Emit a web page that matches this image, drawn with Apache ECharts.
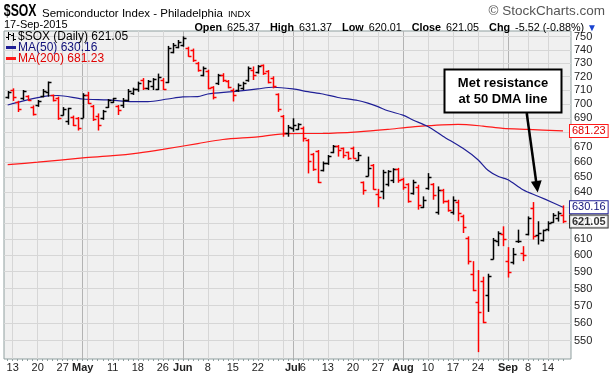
<!DOCTYPE html>
<html><head><meta charset="utf-8">
<script src="https://cdn.jsdelivr.net/npm/echarts@6/dist/echarts.min.js"></script>
<style>html,body{margin:0;padding:0;background:#fff}#c{width:611px;height:376px}</style>
</head><body><div id="c"></div>
<script>
// ---------- DATA ----------
const dates = [
 '2015-04-10','2015-04-13','2015-04-14','2015-04-15','2015-04-16','2015-04-17','2015-04-20','2015-04-21','2015-04-22','2015-04-23','2015-04-24','2015-04-27','2015-04-28','2015-04-29','2015-04-30',
 '2015-05-01','2015-05-04','2015-05-05','2015-05-06','2015-05-07','2015-05-08','2015-05-11','2015-05-12','2015-05-13','2015-05-14','2015-05-15','2015-05-18','2015-05-19','2015-05-20','2015-05-21','2015-05-22','2015-05-26','2015-05-27','2015-05-28','2015-05-29',
 '2015-06-01','2015-06-02','2015-06-03','2015-06-04','2015-06-05','2015-06-08','2015-06-09','2015-06-10','2015-06-11','2015-06-12','2015-06-15','2015-06-16','2015-06-17','2015-06-18','2015-06-19','2015-06-22','2015-06-23','2015-06-24','2015-06-25','2015-06-26','2015-06-29','2015-06-30',
 '2015-07-01','2015-07-02','2015-07-06','2015-07-07','2015-07-08','2015-07-09','2015-07-10','2015-07-13','2015-07-14','2015-07-15','2015-07-16','2015-07-17','2015-07-20','2015-07-21','2015-07-22','2015-07-23','2015-07-24','2015-07-27','2015-07-28','2015-07-29','2015-07-30','2015-07-31',
 '2015-08-03','2015-08-04','2015-08-05','2015-08-06','2015-08-07','2015-08-10','2015-08-11','2015-08-12','2015-08-13','2015-08-14','2015-08-17','2015-08-18','2015-08-19','2015-08-20','2015-08-21','2015-08-24','2015-08-25','2015-08-26','2015-08-27','2015-08-28','2015-08-31',
 '2015-09-01','2015-09-02','2015-09-03','2015-09-04','2015-09-08','2015-09-09','2015-09-10','2015-09-11','2015-09-14','2015-09-15','2015-09-16','2015-09-17'
];
const opens = [705.0,710.0,701.5,704.5,706.0,698.0,699.5,706.0,709.0,706.5,704.5,692.5,688.0,691.0,690.0,
 690.5,707.0,699.0,692.0,690.0,698.0,701.7,699.0,699.5,703.0,708.0,711.0,717.5,712.0,713.0,711.0,717.5,716.0,738.5,742.2,
 743.7,741.5,740.0,730.0,721.3,724.0,712.4,715.3,721.6,716.9,710.0,710.3,712.0,717.6,725.0,723.2,728.6,724.2,719.4,707.3,691.7,679.8,
 683.2,682.6,683.0,675.0,665.4,667.4,654.7,659.3,666.7,670.8,669.4,666.4,669.4,661.4,646.5,650.6,658.0,639.0,641.0,645.0,648.0,655.4,
 648.8,645.0,639.6,643.5,630.5,642.8,645.5,627.3,641.5,634.4,627.3,633.7,624.8,610.9,588.5,572.0,584.4,576.0,598.0,609.0,613.0,
 596.5,596.0,608.5,601.5,613.0,629.7,612.5,609.5,616.0,621.0,623.4,625.37];
const highs = [709.6,711.5,702.5,710.3,706.5,699.2,703.1,711.0,716.5,707.0,705.5,698.0,697.5,692.0,691.0,
 708.0,709.0,699.5,693.5,696.0,703.8,704.6,699.5,704.5,711.0,712.0,716.4,719.0,717.6,719.0,722.3,719.0,743.0,745.2,747.5,
 750.3,742.4,741.0,731.0,727.6,725.2,713.1,722.1,722.6,717.6,711.5,715.1,716.3,727.6,727.6,728.6,729.1,724.9,720.3,707.9,692.4,685.4,
 690.1,686.6,684.3,675.7,666.1,668.1,660.3,664.7,671.5,671.5,669.8,667.0,670.4,666.7,647.0,663.6,658.6,642.1,654.7,654.5,655.8,656.0,
 649.5,645.8,648.1,644.8,637.2,652.5,645.9,643.7,642.1,635.0,637.2,635.0,625.4,611.7,596.4,591.0,587.0,588.8,610.7,614.9,618.0,
 605.0,604.5,615.9,605.6,624.3,633.5,621.2,615.9,621.2,626.4,627.6,631.37];
const lows = [704.0,702.4,694.5,703.0,702.4,692.0,698.2,705.0,705.5,702.0,689.0,692.0,685.5,684.6,681.5,
 690.3,700.2,688.2,681.5,689.0,697.4,701.0,692.4,697.4,702.0,706.7,709.0,710.3,710.3,710.3,710.3,710.3,715.3,737.4,741.2,
 742.4,734.8,731.0,723.7,720.3,710.8,703.5,713.9,716.1,711.5,702.0,709.0,710.3,716.3,717.6,722.3,721.3,715.1,711.5,694.6,677.2,677.2,
 680.7,681.9,673.8,652.3,654.0,645.9,653.6,658.0,665.9,663.6,662.5,661.4,662.2,660.7,638.3,650.3,641.5,630.1,635.3,643.7,645.9,646.1,
 641.5,633.1,638.3,628.6,629.6,641.5,635.0,625.4,632.5,627.3,625.4,621.2,613.8,594.4,578.4,543.5,559.8,566.3,597.4,605.6,605.6,
 586.5,594.4,607.6,596.4,612.3,609.7,606.6,608.5,614.9,620.2,621.0,620.01];
const closes = [708.5,705.5,696.5,709.5,703.0,693.0,702.4,709.5,716.0,703.0,690.5,697.0,697.2,685.5,683.0,
 706.5,701.0,689.6,685.5,695.3,703.0,704.2,696.0,703.0,709.5,711.3,715.6,712.0,716.9,718.3,720.0,711.0,741.5,743.7,746.0,
 749.0,735.4,732.4,725.0,726.8,712.0,705.3,721.3,717.6,712.6,706.5,713.9,715.3,726.8,721.3,727.9,722.4,716.0,713.2,697.0,680.0,684.0,
 685.4,686.3,676.4,660.7,655.0,646.8,659.3,664.0,670.8,668.0,664.7,662.7,662.5,664.7,641.5,656.0,642.2,636.9,653.0,654.2,655.5,648.1,
 643.5,634.4,646.8,631.8,635.0,650.2,638.3,641.5,634.4,628.6,635.0,626.5,617.5,596.2,579.0,566.5,560.2,587.5,609.5,613.5,610.0,
 590.0,600.5,609.0,600.0,623.5,612.2,614.0,615.5,620.0,625.4,626.57,621.05];

const ma50Dates = ['2015-04-10','2015-04-22','2015-04-24','2015-05-01','2015-05-08','2015-05-15','2015-05-20','2015-05-27','2015-06-01','2015-06-04','2015-06-08','2015-06-15','2015-06-22','2015-06-25','2015-07-01','2015-07-07','2015-07-10','2015-07-15','2015-07-21','2015-07-23','2015-07-27','2015-07-29','2015-08-03','2015-08-05','2015-08-10','2015-08-13','2015-08-19','2015-08-24','2015-08-26','2015-08-28','2015-09-01','2015-09-04','2015-09-10','2015-09-15','2015-09-17'];
const ma50Values = [699.5,706.0,706.3,703.8,703.1,701.9,701.9,703.8,705.3,705.5,707.4,709.1,711.1,712.3,711.1,709.1,707.4,704.9,702.7,700.8,698.3,695.4,692.3,688.9,684.3,677.6,669.2,661.5,654.4,650.4,648.1,641.5,637.3,633.1,630.16];
const ma200Dates = ['2015-04-10','2015-04-20','2015-05-01','2015-05-11','2015-05-18','2015-05-26','2015-06-04','2015-06-11','2015-06-22','2015-06-30','2015-07-10','2015-07-21','2015-07-29','2015-08-05','2015-08-18','2015-08-25','2015-08-31','2015-09-08','2015-09-17'];
const ma200Values = [658.2,659.8,662.7,664.2,666.0,668.5,672.5,675.3,677.1,679.4,679.5,680.6,682.3,684.1,685.8,684.6,683.0,682.3,681.23];

const yTicks = [550,560,570,580,590,600,610,620,630,640,650,660,670,680,690,700,710,720,730,740,750];
const weekLineDates = ['2015-04-13','2015-04-20','2015-04-27','2015-05-04','2015-05-11','2015-05-18','2015-05-26','2015-06-08','2015-06-15','2015-06-22','2015-06-29','2015-07-06','2015-07-13','2015-07-20','2015-07-27','2015-08-10','2015-08-17','2015-08-24','2015-08-31','2015-09-08','2015-09-14'];
const monthLineDates = ['2015-05-01','2015-06-01','2015-07-01','2015-08-03','2015-09-01'];
const tickDates = ['2015-04-13','2015-04-20','2015-04-27','2015-05-01','2015-05-11','2015-05-18','2015-05-26','2015-06-01','2015-06-08','2015-06-15','2015-06-22','2015-07-01','2015-07-06','2015-07-13','2015-07-20','2015-07-27','2015-08-03','2015-08-10','2015-08-17','2015-08-24','2015-09-01','2015-09-08','2015-09-14'];
const tickLabels = ['13','20','27','May','11','18','26','Jun','8','15','22','Jul','6','13','20','27','Aug','10','17','24','Sep','8','14'];

// ---------- BUILD ----------
const FONT = 'Liberation Sans, Arial, sans-serif';
const RED = '#ff0000', NAVY = '#1f1f96', MRED = '#ff1a1a';
const n = dates.length;
const idxOf = d => dates.indexOf(d);
const ohlc = dates.map((d, i) => {
  const prev = i > 0 ? closes[i - 1] : opens[i];
  return [i, opens[i], highs[i], lows[i], closes[i], closes[i] >= prev ? 1 : -1];
});
const ma50 = ma50Dates.map((d, k) => [idxOf(d), ma50Values[k]]);
const ma200 = ma200Dates.map((d, k) => [idxOf(d), ma200Values[k]]);
const last = n - 1;
const lastClose = closes[last], prevClose = closes[last - 1];
const chg = lastClose - prevClose, pct = chg / prevClose * 100;
const f2 = v => v.toFixed(2);

function renderOHLC(params, api) {
  const i = api.value(0);
  const pO = api.coord([i, api.value(1)]);
  const pH = api.coord([i, api.value(2)]);
  const pL = api.coord([i, api.value(3)]);
  const pC = api.coord([i, api.value(4)]);
  const col = api.value(5) > 0 ? '#000000' : RED;
  const x = Math.round(pH[0]) + 0.5;
  const yo = Math.round(pO[1]) + 0.5, yc = Math.round(pC[1]) + 0.5;
  const st = { stroke: col, lineWidth: 1.5 };
  return { type: 'group', children: [
    { type: 'line', shape: { x1: x, y1: pH[1], x2: x, y2: pL[1] }, style: st },
    { type: 'line', shape: { x1: x - 3, y1: yo, x2: x, y2: yo }, style: st },
    { type: 'line', shape: { x1: x, y1: yc, x2: x + 3, y2: yc }, style: st }
  ]};
}

const lblStyle = { fontFamily: FONT, fontSize: 11, color: '#222' };
const gridLines = [];
const vLines = weekLineDates.map(d => [d, false]).concat(monthLineDates.map(d => [d, true]));
vLines.forEach(([d, isMonthLine]) => {
  const k = tickDates.indexOf(d);
  const lab = k >= 0 ? tickLabels[k] : '';
  const isMonthLabel = k >= 0 && isNaN(Number(lab));
  gridLines.push({ xAxis: idxOf(d),
    lineStyle: { color: isMonthLine ? '#b3b3b3' : '#d6d6d6', width: 1, type: 'solid' },
    label: { show: k >= 0, position: 'start', distance: 3, formatter: lab, ...lblStyle,
      fontWeight: isMonthLabel ? 'bold' : 'normal' } });
});
yTicks.forEach(v => gridLines.push({ yAxis: v, lineStyle: { color: '#d6d6d6', width: 1, type: 'solid' },
  label: { show: true, position: 'end', distance: 3, formatter: String(v), ...lblStyle } }));

const Z = 100;
const chart = echarts.init(document.getElementById('c'), null, { renderer: 'canvas' });
chart.setOption({
  animation: false,
  backgroundColor: '#ffffff',
  textStyle: { fontFamily: FONT },
  title: [
    { left: 42, top: 5, padding: 0, text: '{b|Semiconductor Index - Philadelphia} {c|INDX}',
      textStyle: { fontWeight: 'normal', rich: {
        b: { fontFamily: FONT, fontSize: 11.5, fontWeight: 'normal', color: '#000' },
        c: { fontFamily: FONT, fontSize: 9.5, fontWeight: 'normal', color: '#000' } } } },
    { right: 6, top: 4, padding: 0, text: '© StockCharts.com', textStyle: { fontFamily: FONT, fontSize: 13.5, fontWeight: 'normal', color: '#555' } },
    { left: 4, top: 19, padding: 0, text: '17-Sep-2015', textStyle: { fontFamily: FONT, fontSize: 11, fontWeight: 'normal', color: '#000' } },
    { right: 14, top: 19, padding: 0,
      text: '{k|Open} {v|' + f2(opens[last]) + '}  {k|High} {v|' + f2(highs[last]) + '}  {k|Low} {v|' + f2(lows[last]) +
            '}  {k|Close} {v|' + f2(lastClose) + '}  {k|Chg} {v|' + f2(chg) + ' (' + f2(pct) + '%)}{t|▼}',
      textStyle: { fontWeight: 'normal', rich: {
        k: { fontFamily: FONT, fontSize: 10.8, fontWeight: 'bold', color: '#000' },
        v: { fontFamily: FONT, fontSize: 10.8, fontWeight: 'normal', color: '#000' },
        t: { fontFamily: FONT, fontSize: 10, fontWeight: 'normal', color: '#1a44d0', padding: [0, 0, 0, 3] } } } }
  ],
  grid: { left: 4, right: 40, top: 31, bottom: 17, show: true, backgroundColor: '#f0f0f0', borderColor: '#8f9f9f', borderWidth: 1, containLabel: false },
  xAxis: { type: 'value', min: -0.74, max: 112.6, show: true,
    axisLine: { show: false }, axisLabel: { show: false }, splitLine: { show: false },
    axisTick: { show: true, length: 2, customValues: dates.map((d, i) => i), lineStyle: { color: '#8f9f9f', width: 1 } } },
  yAxis: { type: 'log', logBase: 10, min: 539.7, max: 754.4, show: false },
  graphic: [
    // ticker symbol (condensed bold)
    { type: 'text', z: Z, x: 3, y: 3, scaleX: 0.72, originX: 3, style: { text: '$SOX', font: 'bold 17px ' + FONT, fill: '#000' } },
    // legend
    { type: 'line', z: Z, shape: { x1: 8.5, y1: 32, x2: 8.5, y2: 40 }, style: { stroke: '#000', lineWidth: 1 } },
    { type: 'line', z: Z, shape: { x1: 6, y1: 37.5, x2: 8.5, y2: 37.5 }, style: { stroke: '#000', lineWidth: 1 } },
    { type: 'line', z: Z, shape: { x1: 8.5, y1: 34.5, x2: 11, y2: 34.5 }, style: { stroke: '#000', lineWidth: 1 } },
    { type: 'line', z: Z, shape: { x1: 13.5, y1: 33, x2: 13.5, y2: 41 }, style: { stroke: '#000', lineWidth: 1 } },
    { type: 'line', z: Z, shape: { x1: 11, y1: 35.5, x2: 13.5, y2: 35.5 }, style: { stroke: '#000', lineWidth: 1 } },
    { type: 'line', z: Z, shape: { x1: 13.5, y1: 39.5, x2: 16, y2: 39.5 }, style: { stroke: '#000', lineWidth: 1 } },
    { type: 'text', z: Z, x: 18, y: 36.5, style: { text: '$SOX (Daily) ' + f2(lastClose), font: '12px ' + FONT, fill: '#000', verticalAlign: 'middle' } },
    { type: 'rect', z: Z, shape: { x: 6, y: 46, width: 10, height: 3 }, style: { fill: NAVY } },
    { type: 'text', z: Z, x: 18, y: 47.5, style: { text: 'MA(50) ' + f2(ma50Values[ma50Values.length - 1]), font: '12px ' + FONT, fill: '#10107a', verticalAlign: 'middle' } },
    { type: 'rect', z: Z, shape: { x: 6, y: 57, width: 10, height: 3 }, style: { fill: MRED } },
    { type: 'text', z: Z, x: 18, y: 58.5, style: { text: 'MA(200) ' + f2(ma200Values[ma200Values.length - 1]), font: '12px ' + FONT, fill: '#e00000', verticalAlign: 'middle' } },
    // annotation
    { type: 'line', z: Z, shape: { x1: 526.7, y1: 113, x2: 536.2, y2: 182 }, style: { stroke: '#000', lineWidth: 2.5 } },
    { type: 'polygon', z: Z, shape: { points: [[530.9, 181.8], [541.7, 180.2], [537.7, 192.5]] }, style: { fill: '#000' } },
    { type: 'rect', z: Z, shape: { x: 444.5, y: 69.5, width: 117, height: 43 }, style: { fill: '#fff', stroke: '#000', lineWidth: 2 } },
    { type: 'text', z: Z + 1, x: 503, y: 91, style: { text: 'Met resistance\nat 50 DMA line', font: 'bold 13px ' + FONT, fill: '#000', align: 'center', verticalAlign: 'middle', lineHeight: 16 } }
  ],
  series: [
    { type: 'line', name: 'grid', data: [], silent: true, z: 1,
      markLine: { silent: true, z: 1, symbol: 'none', animation: false, data: gridLines } },
    { type: 'line', name: 'MA(200)', data: ma200, smooth: 0.3, showSymbol: false, z: 3, silent: true,
      lineStyle: { color: MRED, width: 1.2 }, itemStyle: { color: MRED },
      endLabel: { show: true, distance: 7, formatter: p => f2(p.value[1]), fontFamily: FONT, fontSize: 11, color: '#e00000',
        backgroundColor: '#fff', borderColor: MRED, borderWidth: 1, padding: [1, 2, 0, 2] } },
    { type: 'line', name: 'MA(50)', data: ma50, smooth: 0.3, showSymbol: false, z: 3, silent: true,
      lineStyle: { color: NAVY, width: 1.2 }, itemStyle: { color: NAVY },
      endLabel: { show: true, distance: 7, formatter: p => f2(p.value[1]), fontFamily: FONT, fontSize: 11, color: '#10107a',
        backgroundColor: '#fff', borderColor: NAVY, borderWidth: 1, padding: [1, 2, 0, 2] } },
    { type: 'custom', name: '$SOX (Daily)', data: ohlc, renderItem: renderOHLC, z: 5, silent: true,
      encode: { x: 0, y: [1, 2, 3, 4] } },
    { type: 'scatter', name: 'last', data: [[last, lastClose]], symbolSize: 0, z: 10, silent: true,
      label: { show: true, position: 'right', distance: 7, formatter: p => f2(p.value[1]), fontFamily: FONT, fontSize: 11,
        fontWeight: 'bold', color: '#000', backgroundColor: '#fff', borderColor: '#000', borderWidth: 1, padding: [1, 2, 0, 2] } }
  ]
});
</script></body></html>
